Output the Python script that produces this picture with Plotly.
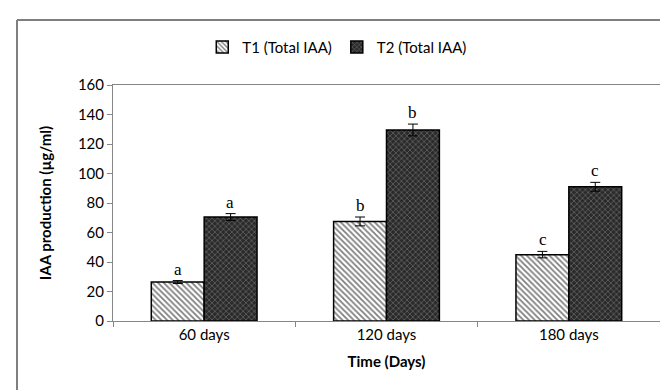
import plotly.graph_objects as go

categories = ["60 days", "120 days", "180 days"]
t1_values = [26.4, 67.5, 45.0]
t1_errors = [1.0, 3.0, 2.2]
t2_values = [70.5, 129.5, 91.0]
t2_errors = [2.3, 4.0, 3.0]
t1_letters = ["a", "b", "c"]
t2_letters = ["a", "b", "c"]
y_ticks = [0, 20, 40, 60, 80, 100, 120, 140, 160]

font_main = "Lato, 'Open Sans', sans-serif"

fig = go.Figure()
fig.add_trace(go.Bar(
    x=categories, y=t1_values, name="T1 (Total IAA)",
    error_y=dict(type="data", array=t1_errors, color="black", thickness=1, width=5),
    marker=dict(color="white", line=dict(color="black", width=1.5),
                pattern=dict(shape="\\", fgcolor="black", bgcolor="white", size=4, solidity=0.45)),
))
fig.add_trace(go.Bar(
    x=categories, y=t2_values, name="T2 (Total IAA)",
    error_y=dict(type="data", array=t2_errors, color="black", thickness=1, width=5),
    marker=dict(color="#333333", line=dict(color="black", width=1.5),
                pattern=dict(shape="x", fgcolor="#b0b0b0", bgcolor="#2a2a2a", size=4, solidity=0.3)),
))

annotations = []
for i, c in enumerate(categories):
    annotations.append(dict(x=c, y=t1_values[i] + t1_errors[i], xref="x", yref="y",
                            text=t1_letters[i], showarrow=False, xshift=-26, yanchor="bottom", yshift=0,
                            font=dict(family="'Liberation Serif', serif", size=17, color="black")))
    annotations.append(dict(x=c, y=t2_values[i] + t2_errors[i], xref="x", yref="y",
                            text=t2_letters[i], showarrow=False, xshift=26, yanchor="bottom", yshift=0,
                            font=dict(family="'Liberation Serif', serif", size=17, color="black")))

fig.update_layout(
    width=668, height=390,
    margin=dict(l=105, r=16, t=77, b=77),
    paper_bgcolor="white", plot_bgcolor="white",
    barmode="group", bargap=0.42, bargroupgap=0,
    font=dict(family=font_main, size=15, color="black"),
    showlegend=True,
    legend=dict(orientation="h", x=0.41, xanchor="center", y=1.16, yanchor="middle",
                font=dict(size=15), itemwidth=30, traceorder="normal"),
    annotations=annotations,
    shapes=[
        dict(type="line", xref="paper", yref="paper", x0=-0.1755, x1=1.03, y0=1.2754, y1=1.2754,
             line=dict(color="#7f7f7f", width=2)),
        dict(type="line", xref="paper", yref="paper", x0=-0.1755, x1=-0.1755, y0=1.2754, y1=-0.35,
             line=dict(color="#7f7f7f", width=2)),
    ],
    xaxis=dict(
        showline=True, linecolor="#868686", linewidth=1, mirror=True,
        ticks="outside", ticklen=5, tickcolor="#868686", tickson="boundaries",
        title=dict(text="<b>Time (Days)</b>", font=dict(size=15), standoff=14),
        tickfont=dict(size=15),
    ),
    yaxis=dict(
        range=[0, 160], tickvals=y_ticks, showgrid=False, zeroline=False,
        showline=True, linecolor="#868686", linewidth=1, mirror=True,
        ticks="outside", ticklen=5, tickcolor="#868686",
        title=dict(text="<b>IAA production (µg/ml)</b>", font=dict(size=15), standoff=22),
        tickfont=dict(size=15),
    ),
)

fig.write_html("out.html")
